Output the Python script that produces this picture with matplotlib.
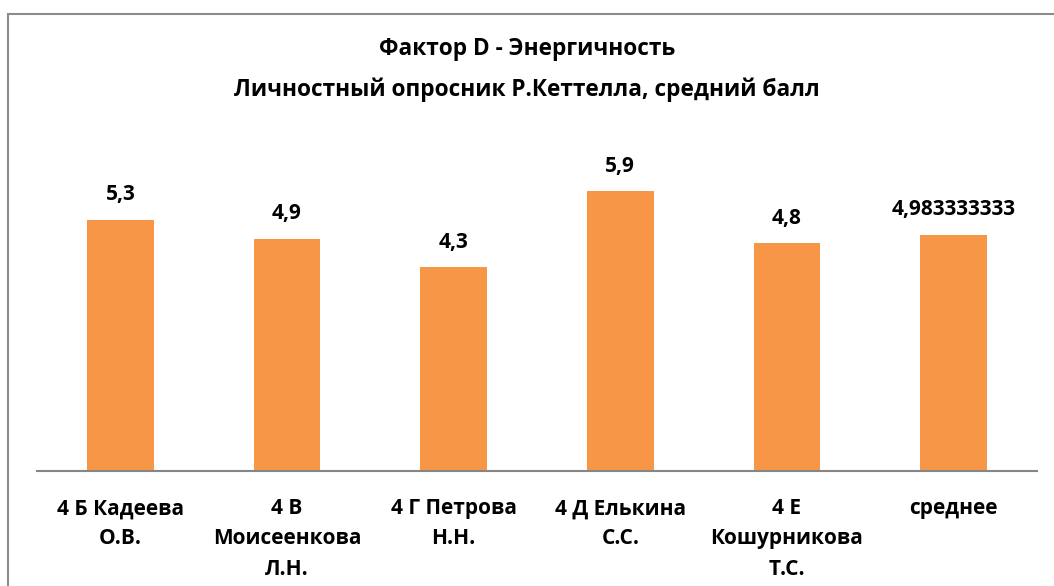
import matplotlib
matplotlib.use("Agg")
import matplotlib.pyplot as plt
from matplotlib.patches import Rectangle

categories = ["4 Б Кадеева\nО.В.", "4 В\nМоисеенкова\nЛ.Н.", "4 Г Петрова\nН.Н.",
              "4 Д Елькина\nС.С.", "4 Е\nКошурникова\nТ.С.", "среднее"]
values = [5.3, 4.9, 4.3, 5.9, 4.8, 4.983333333]
value_labels = ["5,3", "4,9", "4,3", "5,9", "4,8", "4,983333333"]
title = "Фактор D - Энергичность\nЛичностный опросник Р.Кеттелла, средний балл"

FONT = ["Open Sans", "DejaVu Sans"]
W, H = 1054, 586
fig = plt.figure(figsize=(W / 100, H / 100), dpi=100)

# outer chart-area border (left and top edges visible)
fig.patches.append(Rectangle((8 / W, -0.1), 1.2, (H - 13.5) / H + 0.1,
                             transform=fig.transFigure, fill=False,
                             edgecolor="#8c8c8c", linewidth=1.5))

ax = fig.add_axes([37 / W, (H - 471) / H, 1000 / W, (471 - 139) / H])
x = list(range(len(categories)))
bars = ax.bar(x, values, width=0.4, color="#F79646", zorder=2)
ax.set_xlim(-0.5, len(categories) - 0.5)
ax.set_ylim(0, 7)
ax.set_yticks([])
for s in ["top", "right", "left"]:
    ax.spines[s].set_visible(False)
ax.spines["bottom"].set_color("#868686")
ax.spines["bottom"].set_linewidth(1.5)
ax.set_xticks(x)
ax.set_xticklabels(categories, fontsize=15, fontweight="bold", family=FONT,
                   linespacing=1.58)
ax.tick_params(axis="x", length=0, pad=19.5)

for xi, v, lab in zip(x, values, value_labels):
    ax.annotate(lab, (xi, v), xytext=(0, 18), textcoords="offset points",
                ha="center", va="center", fontsize=15, fontweight="bold",
                family=FONT)

fig.text(0.5, (H - 69.5) / H, title, ha="center", va="center", fontsize=16.3,
         fontweight="bold", family=FONT, linespacing=1.85)

fig.savefig("out.png", dpi=100)
